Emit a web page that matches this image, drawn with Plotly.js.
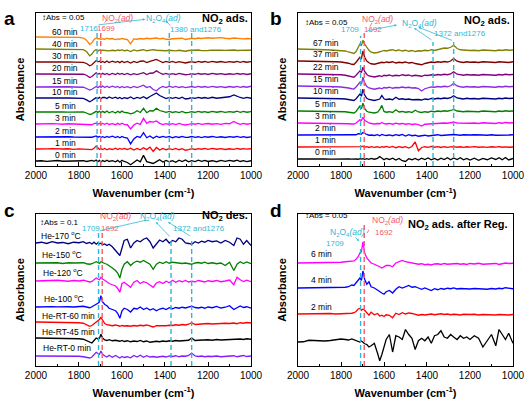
<!DOCTYPE html>
<html><head><meta charset="utf-8">
<script src="https://cdn.plot.ly/plotly-3.0.1.min.js"></script>
<style>html,body{margin:0;padding:0;background:#fff}#plot{width:530px;height:399px}</style>
</head><body><div id="plot"></div>
<script>
// ---- DATA (wavenumber grid, cm-1) ----
const wn = [2000,1975,1950,1925,1900,1875,1850,1825,1800,
1780,1765,1750,1740,1730,1720,1712,1705,1698,1690,
1680,1670,1660,1645,1630,1620,1610,1600,1590,
1575,1560,1545,1530,1515,1500,1485,1470,1455,1440,
1425,1410,1395,1380,1365,1350,1335,1320,1305,1290,
1276,1260,1245,1230,1215,1200,1180,1160,1140,1120,
1100,1080,1065,1050,1035,1020,1000];

// Panel a: NO2 ads. (relative absorbance, arbitrary units)
const aLabels = ['0 min','1 min','2 min','3 min','5 min','10 min','15 min','20 min','30 min','40 min','60 min'];
const a0 = [0,2,-3,1,4,-2,0,3,-1, 2,-4,0,5,-3,8,-6,4,-8,3, -5,6,-4,3,-7,5,-10,6,-4, -12,-30,-10,8,-6,45,-5,-15,-20,-5, 10,-8,5,-6,3,-10,6,-4,8,-6, 3,-5,6,-3,5,-4,2,-6,4,-3, 5,-2,6,-4,3,-5,2];
const a1 = [0,-2,1,3,-1,0,2,-3,1, 0,2,-3,-5,5,25,10,-4,3,-5, 4,-6,3,-4,6,-5,4,-3,5, -4,6,-8,5,-6,10,-5,15,-20,12, -8,5,-6,3,-5,4,-6,3,-10,-5, 2,-4,3,-2,4,-3,5,-2,3,-4, 2,-3,4,-2,3,-1,2];
const a2 = [0,1,-2,2,0,-1,2,0,-2, 1,-3,-5,-2,3,8,-3,4,-2,3, -4,5,-3,6,-5,4,-6,5,-3, -8,-55,-15,5,-4,35,-6,8,-10,6, -4,5,-3,4,-6,3,-4,5,-3,-2, 4,-3,2,-5,3,-2,4,-3,2,-4, 3,-2,4,-3,2,-4,1];
const a3 = [0,2,-1,3,1,-2,2,0,3, 1,0,-4,-6,2,6,-2,5,-3,4, -3,6,-4,3,-6,5,-4,6,-3, -6,-40,-8,6,-3,45,5,20,15,25, 5,-5,3,-4,2,-5,4,-3,-8,-4, 3,-2,4,-3,2,4,-2,3,-3,5, 2,20,6,-3,4,-2,3];
const a5 = [0,1,0,2,1,0,-1,1,2, 0,-8,-20,-15,-5,5,-3,6,-4,5, -5,8,-6,4,-8,6,-5,7,-4, -6,-15,-8,10,-4,30,-6,10,8,30, 12,4,-3,5,-4,3,-5,4,-6,-3, 2,-3,4,-2,3,-4,5,-2,4,-3, 3,-2,6,-3,4,-2,3];
const a10 = [0,1,-1,2,0,1,0,-2,1, -3,-15,-30,-20,-8,3,-4,5,-6,4, 5,-4,8,-3,6,-5,4,-6,3, -4,8,-6,5,-3,10,-5,12,25,40, 20,8,-4,5,-3,4,-5,6,-8,-4, 3,-3,5,-2,4,-3,6,-2,3,5, 10,25,12,4,-3,5,-2];
const a15 = [0,1,0,-1,1,0,2,0,1, -2,-12,-25,-18,-6,4,-5,6,-3,8, -4,6,-5,7,-3,5,-6,4,-5, 3,-6,5,-4,6,15,-5,4,-20,-30, -8,5,-4,6,-3,5,-4,3,-5,-2, 4,-3,5,-2,4,-3,5,-2,3,-4, 4,-2,5,-3,4,-2,6];
const a20 = [0,0,1,-1,0,1,-1,0,1, -2,-10,-28,-20,-5,10,0,4,-4,5, -5,4,-6,5,-4,6,-3,5,-4, 4,-6,3,-5,4,10,-4,6,8,25, 10,-3,4,-5,3,-4,5,-3,-6,-3, 2,-3,4,-2,3,-4,5,-2,3,-4, 2,-3,4,-2,3,-4,2];
const a30 = [0,1,0,-1,1,0,1,-1,0, -3,-12,-30,-22,-5,12,2,6,-3,4, -4,8,-5,6,-3,4,-5,6,-4, 5,-8,4,-5,6,8,-4,5,10,20, 8,-4,5,-3,4,-5,3,-4,-8,-2, 3,-4,5,-2,4,-3,5,-2,4,-3, 3,-2,5,-3,4,-2,3];
const a40 = [0,0,1,0,-1,0,1,0,-2, -5,-20,-55,-40,-15,-5,-18,-8,-15,-10, -12,-8,-15,-10,-14,-8,-12,-6,-14, -10,-20,-8,-15,-10,-5,-14,-8,-5,-10, -12,-8,-14,-10,-12,-15,-10,-12,-18,-12, -10,-12,-8,-13,-10,-12,-9,-12,-10,-11, -9,-8,-12,-10,-11,-9,-10];
const a60 = [0,0,-1,0,1,0,-1,-2,-3, -8,-25,-60,-45,-20,-8,-15,-12,-20,-14, -18,-10,-16,-12,-20,-15,-18,-12,-16, -20,-55,-15,-18,-12,-16,-10,-14,-12,-8, -15,-10,-18,-20,-14,-12,-16,-10,-20,-12, -10,-14,-8,-12,-10,-6,-10,-8,-5,-10, -14,-8,-12,-10,-15,-12,-14];

// Panel b: NO2 ads.
const bLabels = ['0 min','1 min','2 min','3 min','5 min','10 min','15 min','22 min','37 min','67 min'];
const b0 = [0,1,-1,0,1,0,-1,1,0, 1,0,-1,2,0,-2,3,-1,2,-3, 2,-3,4,-2,5,20,8,-6,4, -4,6,-8,4,-14,-20,2,-6,4,-8, 6,-4,8,-6,4,-8,6,-4,10,-6, 8,-4,10,-6,4,-8,6,-10,4,-6, 8,-4,10,-6,12,-8,4];
const b1 = [0,0,1,0,0,1,0,0,1, 0,-1,-2,0,2,4,-2,3,6,-2, 2,-4,3,-3,2,-5,3,-2,4, -3,4,-6,3,-4,2,-8,4,40,-30, -4,2,-3,4,-2,3,-4,2,-3,1, 3,-2,2,-3,2,-1,3,-2,1,-3, 2,-1,3,-2,1,-2,0];
const b2 = [0,0,1,0,1,0,1,0,1, 0,-2,-4,-3,2,10,12,8,20,10, 4,-2,0,-4,2,-6,4,-2,-4, 0,-6,2,-4,4,-8,2,-6,-2,-10, -6,-2,-8,-4,-2,2,-4,0,-2,2, 4,0,-2,2,-2,0,2,-2,0,-2, 2,-2,0,2,-2,0,2];
const b3 = [0,0,0,-1,-1,-2,-2,-3,-3, -4,-6,-8,-8,0,16,25,20,45,22, 8,0,-4,-8,-4,-6,4,-6,-8, -4,-10,-2,-8,-4,-10,-6,-12,-8,-14, -24,-10,-8,-4,-6,-2,-4,0,-2,2, 6,0,-2,-4,0,-2,0,-4,2,-2, 0,-4,2,-2,4,0,2];
const b5 = [0,0,-1,-1,-2,-2,-3,-3,-4, -6,-10,-14,-16,-4,20,40,18,62,20, -2,-10,-14,-16,-10,10,45,-4,-10, -6,-12,10,-8,-4,-10,-6,-12,6,-8, -12,-6,-10,-2,-6,0,-4,2,-2,4, 12,0,-4,-6,-2,-4,-2,-6,0,-4, -2,-6,0,-4,2,-2,0];
const b10 = [0,0,-1,-2,-2,-3,-4,-4,-6, -8,-12,-18,-20,-6,14,32,14,70,24, -2,-12,-16,-20,-14,-8,20,-6,-12, -8,-14,6,-10,-6,-12,-8,-14,-10,-12, -16,-8,-12,-4,-8,-2,-6,0,-4,2, 18,0,-4,-8,-2,-6,-4,-8,-2,-6, -4,-8,-2,-6,0,-4,-2];
const b15 = [0,0,-2,-2,-4,-4,-6,-6,-8, -10,-16,-22,-24,-8,12,30,15,70,25, -4,-16,-22,-26,-20,-16,-22,-12,-16, -10,-18,-12,-14,-8,-14,-10,-16,-14,-20, -40,-22,-14,-8,-10,-4,-8,-2,-6,2, 22,0,-6,-10,-4,-8,-6,-10,-4,-8, -6,-10,-4,-8,-2,-6,-4];
const b22 = [0,0,-1,-2,-2,-4,-4,-6,-6, -10,-16,-24,-26,-10,10,25,12,55,20, -4,-16,-20,-24,-18,-14,-20,-10,-14, -8,-16,-10,-14,-6,-12,-8,-16,-10,-14, -18,-10,-12,-6,-10,-4,-8,-2,-6,0, 18,-2,-6,-10,-4,-8,-6,-10,-4,-8, -6,-10,-4,-8,-2,-6,-4];
const b37 = [0,0,-2,-2,-4,-4,-6,-6,-8, -12,-18,-26,-28,-10,15,30,20,80,30, 0,-14,-22,-26,-20,-16,-10,-14,-8, -12,-6,-16,-10,-14,-8,-16,-12,-20,-24, -30,-20,-14,-8,-12,-6,-10,-4,-8,0, 20,-2,-8,-12,-6,-10,-8,-12,-6,-10, -8,-12,-6,-10,-8,-12,-6];
const b67 = [0,0,-2,-4,-4,-6,-8,-10,-12, -16,-24,-34,-36,-20,10,40,30,70,40, 10,-10,-25,-32,-28,-20,-18,-12,-16, -10,-6,-14,-8,-16,-10,-18,-12,-20,-14, -16,-10,-14,-6,-12,-4,0,8,6,14, 30,4,-6,-10,-8,-12,-10,-14,-8,-12, -10,-14,-8,-12,-6,-10,-8];

// Panel c: NO2 des.
const cLabels = ['He-RT-0 min','He-RT-45 min','He-RT-60 min','He-100 <sup>o</sup>C','He-120 <sup>o</sup>C','He-150 <sup>o</sup>C','He-170 <sup>o</sup>C'];
const cRT0 = [0,0,1,0,-1,0,1,-1,-2, -6,-10,-16,-8,10,30,20,14,40,15, 0,-8,6,-10,4,-6,-16,-4,-12, -6,-14,4,-8,6,-10,2,-8,-4,-10, -6,-2,-8,0,-4,2,-6,0,-2,4, 24,0,-4,0,-6,-2,-4,0,-6,-2, -4,2,-6,0,4,-4,0];
const cRT45 = [0,0,-1,0,-2,-2,-4,-4,-6, -10,-20,-36,-40,-20,0,-8,-4,30,0, -16,-20,-14,-22,-18,-24,-26,-20,-28, -22,-30,-24,-28,-20,-30,-24,-34,-30,-26, -30,-24,-28,-22,-26,-20,-24,-20,-22,-18, 0,-20,-18,-16,-20,-14,-18,-12,-16,-14, -12,-10,-14,-8,-12,-6,-10];
const cRT60 = [0,0,-1,-1,-2,-2,-3,-4,-6, -10,-20,-34,-28,-14,-6,4,20,36,10, -12,-22,-26,-30,-24,-28,-34,-28,-32, -30,-34,-28,-32,-26,-30,-24,-34,-40,-30, -32,-28,-30,-26,-28,-22,-26,-20,-24,-18, -6,-20,-18,-14,-18,-12,-16,-12,-14,-10, -12,-8,-14,-6,-10,-4,-8];
const c100 = [0,2,0,3,1,4,2,0,3, 6,0,-6,2,10,20,30,40,90,40, 20,10,-10,-20,-30,-50,-90,-30,-10, -20,-40,-10,-16,0,-20,-8,-24,-14,-30, -16,-10,-20,-6,-14,-4,-10,-2,-8,0, 6,-4,-8,-2,-10,0,-6,4,-8,-2, 10,-20,-6,8,-4,2,-10];
const c120 = [0,2,4,0,6,2,-2,4,0, 6,2,-8,-4,10,24,16,10,30,14, 6,-8,-20,-30,-40,-60,-90,-20,-10, -30,-50,-10,4,-20,-6,-14,-30,-50,-16, -6,-20,-2,-14,6,-10,2,-6,4,-8, -2,-6,4,-2,-8,2,-4,4,-6,0, 8,-30,30,10,-4,6,-6];
const c150 = [0,2,-2,4,2,-4,2,0,4, 2,-6,-10,-6,4,10,4,-4,10,2, -4,-10,-20,-40,-60,-80,-120,-50,-10, 10,-20,4,14,6,20,2,-10,-50,-10, 6,-4,10,-2,6,2,4,-4,0,-8, -10,0,4,-2,6,-4,2,-6,0,-20, 6,-60,-10,10,-4,8,-6];
const c170 = [0,6,-4,10,0,4,-6,6,2, 10,-4,4,-8,6,-10,2,-6,-2,-14, -8,-20,-10,-30,-60,-80,-100,-40,20, 30,-40,0,20,10,30,40,10,-40,-10, 24,10,30,0,20,10,40,30,0,-4, -10,10,0,14,6,20,10,16,0,20, 6,-20,40,30,-10,20,-20];

// Panel d: NO2 ads. after Reg.
const dLabels = ['','2 min','4 min','6 min'];
const d0 = [0,2,14,10,6,8,12,20,24, 20,16,24,18,10,6,0,8,-4,-14, -20,-40,-30,-10,-90,-150,-100,-30,20, 60,-80,50,40,20,100,60,30,-60,10, 30,10,40,-10,50,60,90,40,30,60, 40,20,50,30,40,20,50,30,-40,10, 60,-30,100,60,20,70,-10];
const d2 = [0,1,0,2,0,1,4,0,2, 2,0,6,10,20,40,44,30,40,30, 10,-10,14,-6,4,-16,-10,-20,-6, -10,-30,6,-4,10,0,8,4,-6,-10, -4,-8,-4,0,-6,-2,2,-4,0,-6, -2,-4,-8,-2,-6,-4,-2,-8,-4,-6, -2,-8,-4,-6,-2,-8,-4];
const d4 = [0,0,1,0,2,0,1,2,4, 6,10,24,20,40,60,80,60,136,70, 30,50,10,0,-20,-30,-40,-50,-30, -20,-40,-10,10,0,10,20,6,10,0, -10,0,-10,-20,-6,-14,-4,-10,-2,-6, 0,-8,-4,-6,-2,-8,-4,-6,-2,-10, -4,-8,-2,-6,2,-4,-6];
const d6 = [0,0,1,0,2,4,2,4,6, 10,12,20,16,30,50,80,90,170,80, 40,20,0,-10,-20,-30,-40,-30,-20, -20,-30,0,10,20,10,6,0,-4,-10, -6,-14,-10,-16,-8,-6,-12,-4,-10,-6, -8,-4,-10,-6,-12,-4,-8,-2,-10,-6, -8,-4,-12,-6,0,-4,-2];

// Band positions (cm-1)
const aCyan = [1716,1380,1276], aPink = [1699];
const bCyan = [1709,1372,1276], bPink = [1692];
const cCyan = [1709,1372,1276], cPink = [1692];
const dCyan = [1709], dPink = [1692];

// ---- STYLE / LAYOUT ----
const FONT = 'Arial, "Liberation Sans", sans-serif';
const CYAN = '#2cb9d8', PINK = '#f25a6e';
const tColors = {
  a: ['#000000','#ff0000','#0000ff','#ff00ff','#008000','#000080','#8a2be2','#800080','#800000','#808000','#ff8000'],
  b: ['#000000','#ff0000','#0000ff','#ff00ff','#008000','#000080','#8a2be2','#800080','#800000','#808000'],
  c: ['#7f1fff','#000000','#ff0000','#0000ff','#ff00ff','#008000','#000080'],
  d: ['#000000','#ff0000','#0000ff','#ff00ff']
};
const offs = {
  a: [0,96,192,296,392,504,592,696,792,896,992],
  b: [56,152,248,344,440,544,640,736,840,936],
  c: [80,224,352,472,680,824,984],
  d: [192,416,624,824]
};
const labX = {a:1865, b:1870, c:[1856,1851,1847,1870,1874,1879,1884], d:1893};
const labDy = {a:44, b:52, c:[64,48,48,64,64,64,56], d:[0,56,64,72]};

const traces = [];
const annotations = [];
const shapes = [];

function panel(key, series, labels, xa, ya) {
  series.forEach((s, i) => {
    traces.push({x: wn, y: s.map(v => v + offs[key][i]), xaxis: xa, yaxis: ya,
      type: 'scatter', mode: 'lines', line: {color: tColors[key][i], width: 1.3},
      hoverinfo: 'skip', showlegend: false});
    if (labels[i]) {
      const lx = Array.isArray(labX[key]) ? labX[key][i] : labX[key];
      const dy = Array.isArray(labDy[key]) ? labDy[key][i] : labDy[key];
      annotations.push({xref: xa, yref: ya, x: lx, y: offs[key][i] + dy, text: labels[i],
        showarrow: false, font: {family: FONT, size: 8.5, color: '#000'}});
    }
  });
}
panel('a', [a0,a1,a2,a3,a5,a10,a15,a20,a30,a40,a60], aLabels, 'x', 'y');
panel('b', [b0,b1,b2,b3,b5,b10,b15,b22,b37,b67], bLabels, 'x2', 'y2');
panel('c', [cRT0,cRT45,cRT60,c100,c120,c150,c170], cLabels, 'x3', 'y3');
panel('d', [d0,d2,d4,d6], dLabels, 'x4', 'y4');

function vlines(list, color, xa, ya, top, bottom) {
  list.forEach((w, i) => {
    const t = Array.isArray(top) ? top[i] : top;
    shapes.push({type: 'line', xref: xa, yref: ya, x0: w, x1: w, y0: bottom, y1: t,
      line: {color: color, width: 1.4, dash: '5px,3px'}});
  });
}
vlines(aCyan, CYAN, 'x', 'y', 1024, -40);
vlines(aPink, PINK, 'x', 'y', 1040, -40);
vlines(bCyan, CYAN, 'x2', 'y2', [1040,992,992], 0);
vlines(bPink, PINK, 'x2', 'y2', 1064, 0);
vlines(cCyan, CYAN, 'x3', 'y3', [1064,1024,1024], 0);
vlines(cPink, PINK, 'x3', 'y3', 1064, 0);
vlines(dCyan, CYAN, 'x4', 'y4', 944, 0);
vlines(dPink, PINK, 'x4', 'y4', 1128, 0);

function txt(xa, ya, x, y, text, color, size, extra) {
  annotations.push(Object.assign({xref: xa, yref: ya, x, y, text, showarrow: false,
    font: {family: FONT, size, color}}, extra || {}));
}
function arrow(xa, ya, x0, y0, x1, y1, color, head) {
  annotations.push({xref: xa, yref: ya, axref: xa, ayref: ya, x: x1, y: y1, ax: x0, ay: y0,
    text: '', showarrow: true, arrowhead: head ? 2 : 0, arrowsize: 0.6, arrowwidth: 0.8,
    arrowcolor: color, standoff: 0, startstandoff: 0});
}
const NO2 = 'NO<sub>2</sub><i>(ad)</i>';
const N2O4 = 'N<sub>2</sub>O<sub>4</sub><i>(ad)</i>';

// panel a
txt('x','y',1981,1152,'↕Abs = 0.05','#000',8,{xanchor:'left'});
txt('x','y',1619,1144,NO2,PINK,8.5);
txt('x','y',1405,1144,N2O4,CYAN,8.5);
txt('x','y',1753,1064,'1716',CYAN,8);
txt('x','y',1674,1064,'1699',PINK,8);
txt('x','y',1258,1056,'1380 and1276',CYAN,8);
txt('x','y',1005,1136,'<b>NO<sub>2</sub> ads.</b>','#000',11,{xanchor:'right'});
arrow('x','y',1716,1088,1492,1134,CYAN,true);
arrow('x','y',1686,1096,1672,1128,PINK,false);
arrow('x','y',1368,1072,1398,1124,CYAN,true);

// panel b
txt('x2','y2',1977,1152,'↕Abs = 0.05','#000',8,{xanchor:'left'});
txt('x2','y2',1628,1176,NO2,PINK,8.5);
txt('x2','y2',1758,1096,'1709',CYAN,8);
txt('x2','y2',1651,1096,'1692',PINK,8);
txt('x2','y2',1437,1144,N2O4,CYAN,8.5);
txt('x2','y2',1247,1064,'1372 and1276',CYAN,8);
txt('x2','y2',1005,1164,'<b>NO<sub>2</sub> ads.</b>','#000',11,{xanchor:'right'});
arrow('x2','y2',1684,1080,1540,1128,CYAN,true);
arrow('x2','y2',1372,1000,1460,1104,CYAN,true);
arrow('x2','y2',1276,1000,1440,1110,CYAN,true);
arrow('x2','y2',1670,1104,1656,1144,PINK,false);

// panel c
txt('x3','y3',1991,1144,'↕Abs = 0.1','#000',8,{xanchor:'left'});
txt('x3','y3',1628,1192,NO2,PINK,8.5);
txt('x3','y3',1433,1192,N2O4,CYAN,8.5);
txt('x3','y3',1745,1096,'1709',CYAN,8);
txt('x3','y3',1656,1096,'1692',PINK,8);
txt('x3','y3',1242,1096,'1372 and1276',CYAN,8);
txt('x3','y3',1005,1200,'<b>NO<sub>2</sub> des.</b>','#000',11,{xanchor:'right'});
arrow('x3','y3',1709,1080,1484,1168,CYAN,true);
arrow('x3','y3',1372,1024,1442,1152,CYAN,true);
arrow('x3','y3',1276,1032,1386,1152,CYAN,true);

// panel d
txt('x4','y4',1977,1200,'↕Abs = 0.05','#000',8,{xanchor:'left'});
txt('x4','y4',1772,1064,N2O4,CYAN,8.5);
txt('x4','y4',1830,976,'1709',CYAN,8);
txt('x4','y4',1585,1164,NO2,PINK,8.5);
txt('x4','y4',1600,1064,'1692',PINK,8);
txt('x4','y4',1012,1128,'<b>NO<sub>2</sub> ads. after Reg.</b>','#000',11,{xanchor:'right'});
arrow('x4','y4',1740,1040,1716,1000,CYAN,true);
arrow('x4','y4',1683,1050,1670,1090,PINK,false);

// panel letters
[['a',0.004,0.985],['b',0.506,0.985],['c',0.004,0.503],['d',0.506,0.503]].forEach(([t,x,y]) => {
  annotations.push({xref:'paper', yref:'paper', x, y, xanchor:'left', yanchor:'top', text:'<b>'+t+'</b>',
    showarrow:false, font:{family: FONT, size: 19, color:'#000'}});
});

function xax(domain, anchor) {
  return {domain, anchor, range: [2000, 1000], autorange: false, tick0: 1000, dtick: 200,
    ticks: 'inside', ticklen: 4, tickwidth: 1, tickcolor: '#000',
    minor: {dtick: 100, ticks: 'inside', ticklen: 2, tickcolor: '#000'},
    showline: true, mirror: true, linecolor: '#000', linewidth: 1.2, showgrid: false, zeroline: false,
    tickfont: {family: FONT, size: 10, color: '#000'},
    title: {text: '<b>Wavenumber (cm<sup>-1</sup>)</b>', font: {family: FONT, size: 11, color: '#000'}, standoff: 9}};
}
function yax(domain, anchor, range) {
  return {domain, anchor, range, autorange: false, showticklabels: false, ticks: '',
    showline: true, mirror: true, linecolor: '#000', linewidth: 1.2, showgrid: false, zeroline: false,
    title: {text: '<b>Absorbance</b>', font: {family: FONT, size: 11, color: '#000'}, standoff: 8}};
}
const layout = {
  width: 530, height: 399, margin: {l: 0, r: 0, t: 0, b: 0}, paper_bgcolor: '#fff', plot_bgcolor: '#fff',
  showlegend: false, font: {family: FONT, color: '#000'},
  xaxis: xax([0.0679, 0.4736], 'y'), yaxis: yax([0.584, 0.9674], 'x', [-40, 1184]),
  xaxis2: xax([0.5623, 0.9679], 'y2'), yaxis2: yax([0.584, 0.9674], 'x2', [0, 1224]),
  xaxis3: xax([0.0679, 0.4736], 'y3'), yaxis3: yax([0.0827, 0.4637], 'x3', [0, 1216]),
  xaxis4: xax([0.5623, 0.9679], 'y4'), yaxis4: yax([0.0827, 0.4637], 'x4', [0, 1216]),
  annotations, shapes
};
Plotly.newPlot('plot', traces, layout, {staticPlot: true, displayModeBar: false});
</script></body></html>
